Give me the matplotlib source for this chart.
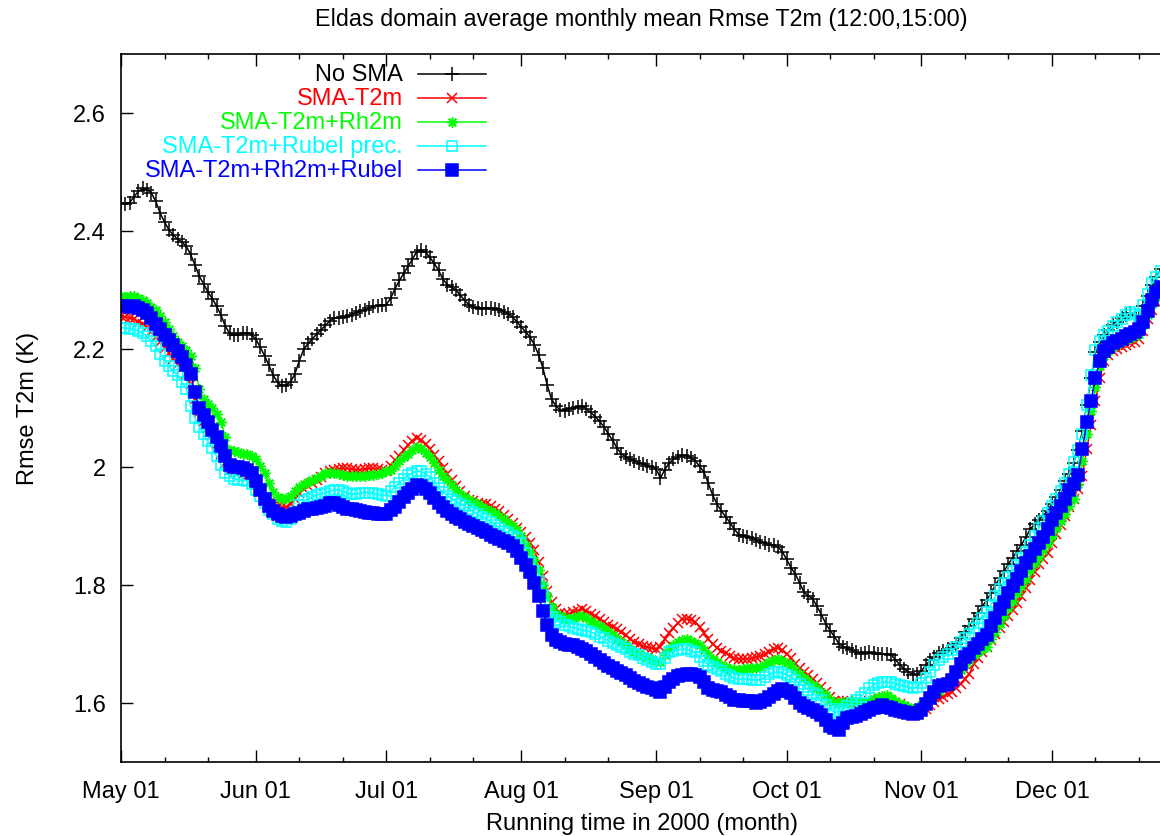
import matplotlib
matplotlib.use("Agg")
import matplotlib.pyplot as plt
import matplotlib.dates as mdates
from matplotlib.ticker import FixedLocator, FormatStrFormatter
import pandas as pd

plt.rcParams['font.family'] = ['Liberation Sans', 'DejaVu Sans']
plt.rcParams['font.size'] = 17

# daily running-mean values, first day is 2000-05-01
start = "2000-05-01"
labels = ["No SMA", "SMA-T2m", "SMA-T2m+Rh2m", "SMA-T2m+Rubel prec.", "SMA-T2m+Rh2m+Rubel"]

no_sma = [
    2.447, 2.445, 2.448, 2.458, 2.467, 2.472, 2.470, 2.464, 2.450, 2.430,
    2.415, 2.402, 2.393, 2.386, 2.381, 2.374, 2.360, 2.342, 2.323, 2.310,
    2.296, 2.285, 2.272, 2.257, 2.238, 2.226, 2.224, 2.224, 2.226, 2.227,
    2.224, 2.216, 2.203, 2.188, 2.172, 2.155, 2.143, 2.137, 2.139, 2.144,
    2.158, 2.180, 2.199, 2.209, 2.217, 2.225, 2.232, 2.240, 2.247, 2.252,
    2.253, 2.254, 2.255, 2.258, 2.261, 2.264, 2.266, 2.269, 2.272, 2.273,
    2.274, 2.275, 2.286, 2.302, 2.316, 2.328, 2.340, 2.352, 2.365, 2.368,
    2.364, 2.355, 2.345, 2.333, 2.318, 2.309, 2.304, 2.300, 2.291, 2.282,
    2.275, 2.271, 2.269, 2.268, 2.270, 2.269, 2.268, 2.266, 2.263, 2.259,
    2.254, 2.246, 2.237, 2.229, 2.220, 2.207, 2.190, 2.167, 2.138, 2.114,
    2.103, 2.096, 2.095, 2.098, 2.100, 2.102, 2.103, 2.098, 2.092, 2.085,
    2.077, 2.068, 2.056, 2.045, 2.032, 2.022, 2.017, 2.013, 2.010, 2.007,
    2.004, 2.002, 2.000, 1.996, 1.981, 1.995, 2.006, 2.013, 2.017, 2.020,
    2.019, 2.015, 2.010, 2.001, 1.991, 1.972, 1.952, 1.937, 1.925, 1.915,
    1.905, 1.894, 1.885, 1.883, 1.881, 1.879, 1.876, 1.873, 1.870, 1.868,
    1.867, 1.864, 1.856, 1.843, 1.829, 1.818, 1.803, 1.787, 1.781, 1.776,
    1.763, 1.749, 1.734, 1.722, 1.712, 1.700, 1.695, 1.692, 1.689, 1.686,
    1.683, 1.684, 1.685, 1.684, 1.683, 1.683, 1.682, 1.681, 1.673, 1.664,
    1.657, 1.652, 1.647, 1.648, 1.654, 1.663, 1.672, 1.678, 1.684, 1.688,
    1.690, 1.693, 1.700, 1.710, 1.720, 1.730, 1.741, 1.752, 1.763, 1.774,
    1.786, 1.799, 1.811, 1.823, 1.835, 1.846, 1.857, 1.868, 1.880, 1.894,
    1.902, 1.910, 1.917, 1.925, 1.937, 1.948, 1.960, 1.975, 1.988, 2.007,
    2.028, 2.060, 2.105, 2.150, 2.195, 2.212, 2.224, 2.232, 2.240, 2.246,
    2.252, 2.258, 2.260, 2.258, 2.256, 2.272, 2.290, 2.308, 2.322, 2.335,
]

sma_t2m = [
    2.256, 2.254, 2.252, 2.250, 2.246, 2.242, 2.237, 2.229, 2.220, 2.211,
    2.202, 2.193, 2.183, 2.175, 2.168, 2.158, 2.140, 2.115, 2.093, 2.078,
    2.066, 2.053, 2.038, 2.022, 2.006, 1.994, 1.991, 1.990, 1.988, 1.985,
    1.980, 1.970, 1.958, 1.946, 1.938, 1.934, 1.932, 1.931, 1.932, 1.937,
    1.946, 1.955, 1.962, 1.967, 1.972, 1.977, 1.983, 1.989, 1.993, 1.995,
    1.996, 1.997, 1.997, 1.996, 1.995, 1.995, 1.996, 1.997, 1.997, 1.996,
    1.994, 1.993, 2.002, 2.011, 2.019, 2.028, 2.037, 2.043, 2.049, 2.045,
    2.038, 2.030, 2.020, 2.009, 1.997, 1.987, 1.977, 1.968, 1.959, 1.950,
    1.943, 1.941, 1.939, 1.937, 1.936, 1.933, 1.929, 1.925, 1.918, 1.911,
    1.904, 1.896, 1.889, 1.881, 1.871, 1.858, 1.838, 1.815, 1.790, 1.770,
    1.758, 1.752, 1.750, 1.750, 1.753, 1.756, 1.759, 1.755, 1.751, 1.747,
    1.742, 1.736, 1.732, 1.728, 1.724, 1.720, 1.714, 1.708, 1.703, 1.699,
    1.696, 1.694, 1.692, 1.691, 1.695, 1.707, 1.718, 1.726, 1.735, 1.741,
    1.742, 1.740, 1.737, 1.728, 1.718, 1.707, 1.699, 1.693, 1.688, 1.684,
    1.679, 1.675, 1.674, 1.674, 1.674, 1.675, 1.677, 1.679, 1.682, 1.686,
    1.690, 1.693, 1.689, 1.683, 1.675, 1.666, 1.658, 1.652, 1.646, 1.640,
    1.633, 1.626, 1.618, 1.610, 1.603, 1.601, 1.603, 1.603, 1.600, 1.597,
    1.596, 1.599, 1.602, 1.603, 1.604, 1.605, 1.605, 1.602, 1.600, 1.597,
    1.592, 1.586, 1.580, 1.582, 1.585, 1.589, 1.595, 1.601, 1.606, 1.610,
    1.614, 1.618, 1.625, 1.632, 1.640, 1.648, 1.665, 1.675, 1.685, 1.695,
    1.706, 1.716, 1.727, 1.737, 1.747, 1.757, 1.768, 1.781, 1.794, 1.808,
    1.822, 1.835, 1.844, 1.853, 1.870, 1.886, 1.901, 1.916, 1.931, 1.946,
    1.963, 1.985, 2.030, 2.070, 2.112, 2.150, 2.180, 2.190, 2.196, 2.200,
    2.203, 2.206, 2.209, 2.212, 2.216, 2.230, 2.250, 2.266, 2.280, 2.290,
]

sma_t2m_rh2m = [
    2.289, 2.288, 2.290, 2.289, 2.286, 2.282, 2.277, 2.271, 2.265, 2.255,
    2.245, 2.233, 2.221, 2.211, 2.204, 2.198, 2.188, 2.168, 2.132, 2.115,
    2.107, 2.099, 2.089, 2.076, 2.050, 2.028, 2.026, 2.025, 2.022, 2.021,
    2.019, 2.013, 2.001, 1.990, 1.973, 1.957, 1.948, 1.945, 1.947, 1.951,
    1.958, 1.965, 1.970, 1.974, 1.978, 1.981, 1.985, 1.989, 1.990, 1.989,
    1.987, 1.986, 1.985, 1.984, 1.984, 1.984, 1.985, 1.986, 1.986, 1.987,
    1.990, 1.992, 1.995, 2.002, 2.009, 2.016, 2.022, 2.028, 2.034, 2.030,
    2.024, 2.017, 2.006, 1.995, 1.985, 1.977, 1.969, 1.961, 1.954, 1.949,
    1.944, 1.940, 1.936, 1.932, 1.928, 1.925, 1.921, 1.917, 1.912, 1.905,
    1.899, 1.893, 1.883, 1.868, 1.855, 1.842, 1.824, 1.800, 1.780, 1.762,
    1.751, 1.747, 1.744, 1.742, 1.744, 1.746, 1.747, 1.743, 1.738, 1.734,
    1.729, 1.724, 1.720, 1.714, 1.708, 1.703, 1.697, 1.691, 1.686, 1.683,
    1.679, 1.677, 1.674, 1.671, 1.668, 1.680, 1.691, 1.697, 1.702, 1.706,
    1.708, 1.705, 1.701, 1.697, 1.689, 1.681, 1.674, 1.669, 1.664, 1.660,
    1.657, 1.657, 1.656, 1.657, 1.658, 1.658, 1.659, 1.661, 1.664, 1.668,
    1.672, 1.674, 1.671, 1.667, 1.663, 1.655, 1.648, 1.642, 1.636, 1.630,
    1.625, 1.618, 1.612, 1.604, 1.601, 1.600, 1.601, 1.601, 1.602, 1.601,
    1.601, 1.601, 1.603, 1.606, 1.609, 1.611, 1.612, 1.608, 1.603, 1.598,
    1.595, 1.592, 1.589, 1.588, 1.595, 1.603, 1.610, 1.614, 1.620, 1.626,
    1.634, 1.641, 1.648, 1.656, 1.665, 1.673, 1.680, 1.686, 1.690, 1.695,
    1.707, 1.719, 1.733, 1.746, 1.760, 1.773, 1.785, 1.798, 1.810, 1.824,
    1.836, 1.847, 1.858, 1.870, 1.883, 1.896, 1.908, 1.920, 1.934, 1.946,
    1.970, 2.010, 2.055, 2.095, 2.135, 2.170, 2.188, 2.196, 2.203, 2.208,
    2.212, 2.216, 2.219, 2.222, 2.225, 2.240, 2.258, 2.276, 2.288, 2.296,
]

sma_t2m_rubel = [
    2.236, 2.235, 2.234, 2.233, 2.230, 2.226, 2.222, 2.213, 2.204, 2.192,
    2.180, 2.170, 2.162, 2.155, 2.143, 2.132, 2.103, 2.082, 2.068, 2.055,
    2.043, 2.031, 2.018, 2.003, 1.989, 1.984, 1.980, 1.978, 1.977, 1.976,
    1.970, 1.961, 1.951, 1.938, 1.927, 1.919, 1.912, 1.908, 1.906, 1.912,
    1.923, 1.935, 1.941, 1.945, 1.949, 1.952, 1.954, 1.956, 1.958, 1.961,
    1.961, 1.958, 1.955, 1.953, 1.954, 1.955, 1.956, 1.956, 1.955, 1.953,
    1.952, 1.951, 1.958, 1.966, 1.972, 1.980, 1.986, 1.990, 1.992, 1.992,
    1.988, 1.983, 1.973, 1.964, 1.957, 1.951, 1.946, 1.941, 1.937, 1.933,
    1.928, 1.924, 1.919, 1.915, 1.911, 1.907, 1.901, 1.896, 1.891, 1.887,
    1.883, 1.879, 1.870, 1.853, 1.838, 1.823, 1.806, 1.782, 1.756, 1.745,
    1.740, 1.736, 1.732, 1.729, 1.727, 1.725, 1.723, 1.721, 1.720, 1.716,
    1.712, 1.709, 1.705, 1.701, 1.698, 1.694, 1.690, 1.686, 1.683, 1.680,
    1.676, 1.672, 1.669, 1.666, 1.665, 1.676, 1.685, 1.687, 1.689, 1.691,
    1.690, 1.688, 1.685, 1.678, 1.670, 1.664, 1.660, 1.657, 1.653, 1.649,
    1.645, 1.641, 1.640, 1.640, 1.640, 1.639, 1.638, 1.639, 1.643, 1.648,
    1.651, 1.652, 1.650, 1.647, 1.644, 1.638, 1.632, 1.627, 1.622, 1.617,
    1.612, 1.604, 1.596, 1.589, 1.583, 1.585, 1.589, 1.594, 1.599, 1.604,
    1.610, 1.617, 1.624, 1.630, 1.633, 1.634, 1.635, 1.634, 1.632, 1.630,
    1.628, 1.626, 1.624, 1.626, 1.633, 1.641, 1.652, 1.664, 1.672, 1.677,
    1.683, 1.689, 1.694, 1.702, 1.710, 1.717, 1.726, 1.735, 1.744, 1.753,
    1.766, 1.780, 1.793, 1.803, 1.813, 1.823, 1.833, 1.845, 1.856, 1.868,
    1.883, 1.896, 1.908, 1.921, 1.933, 1.945, 1.958, 1.973, 1.988, 2.008,
    2.028, 2.055, 2.105, 2.155, 2.198, 2.214, 2.224, 2.231, 2.238, 2.245,
    2.251, 2.257, 2.262, 2.259, 2.256, 2.274, 2.293, 2.311, 2.322, 2.332,
]

sma_t2m_rh2m_rubel = [
    2.272, 2.273, 2.271, 2.272, 2.269, 2.265, 2.261, 2.252, 2.242, 2.233,
    2.224, 2.215, 2.206, 2.196, 2.186, 2.172, 2.157, 2.126, 2.100, 2.087,
    2.075, 2.063, 2.051, 2.035, 2.019, 2.003, 2.000, 1.999, 1.998, 1.995,
    1.990, 1.976, 1.961, 1.946, 1.934, 1.925, 1.919, 1.916, 1.914, 1.916,
    1.919, 1.922, 1.925, 1.928, 1.929, 1.930, 1.931, 1.934, 1.938, 1.938,
    1.935, 1.932, 1.929, 1.928, 1.927, 1.925, 1.924, 1.922, 1.921, 1.920,
    1.920, 1.920, 1.926, 1.932, 1.940, 1.948, 1.956, 1.963, 1.969, 1.967,
    1.962, 1.956, 1.947, 1.939, 1.932, 1.925, 1.920, 1.915, 1.911, 1.907,
    1.903, 1.900, 1.896, 1.893, 1.889, 1.885, 1.881, 1.877, 1.874, 1.870,
    1.866, 1.857, 1.846, 1.834, 1.821, 1.803, 1.780, 1.755, 1.731, 1.714,
    1.706, 1.702, 1.700, 1.698, 1.697, 1.694, 1.691, 1.687, 1.682, 1.677,
    1.672, 1.667, 1.662, 1.658, 1.654, 1.650, 1.646, 1.642, 1.637, 1.633,
    1.630, 1.627, 1.624, 1.621, 1.618, 1.626, 1.634, 1.640, 1.645, 1.647,
    1.649, 1.648, 1.646, 1.643, 1.634, 1.625, 1.621, 1.620, 1.618, 1.613,
    1.609, 1.605, 1.604, 1.603, 1.603, 1.602, 1.600, 1.601, 1.605, 1.609,
    1.614, 1.619, 1.623, 1.620, 1.616, 1.608, 1.599, 1.594, 1.591, 1.588,
    1.584, 1.579, 1.570, 1.561, 1.556, 1.554, 1.566, 1.573, 1.575, 1.577,
    1.581, 1.584, 1.588, 1.591, 1.593, 1.595, 1.593, 1.590, 1.588, 1.586,
    1.584, 1.582, 1.581, 1.582, 1.588, 1.598, 1.607, 1.618, 1.628, 1.630,
    1.632, 1.638, 1.652, 1.666, 1.678, 1.683, 1.692, 1.700, 1.707, 1.714,
    1.729, 1.744, 1.758, 1.771, 1.785, 1.797, 1.810, 1.823, 1.836, 1.849,
    1.860, 1.870, 1.881, 1.895, 1.909, 1.921, 1.934, 1.946, 1.960, 1.971,
    1.986, 2.030, 2.075, 2.112, 2.150, 2.180, 2.196, 2.203, 2.209, 2.213,
    2.217, 2.221, 2.225, 2.229, 2.233, 2.246, 2.264, 2.283, 2.296, 2.305,
]

series = [no_sma, sma_t2m, sma_t2m_rh2m, sma_t2m_rubel, sma_t2m_rh2m_rubel]
colors = ["#000000", "#ff0000", "#00ff00", "#00ffff", "#0000ff"]
markers = ["+", "x", (8, 2, 0), "s", "s"]
msizes = [10, 7, 7.5, 7.5, 8]
mfaces = [None, None, None, "none", None]

days = pd.date_range(start, periods=len(no_sma), freq="D")

fig = plt.figure(figsize=(11.6, 8.37), dpi=100)
# gnuplot canvas is cut on the right, so the axes run slightly past the edge
ax = fig.add_axes([121 / 1160, 1 - 762.5 / 837, 1041 / 1160, 707.5 / 837])

for vals, c, m, ms, fc in zip(series, colors, markers, msizes, mfaces):
    kw = dict(color=c, marker=m, markersize=ms, markeredgewidth=1.1, linewidth=1.1)
    if fc:
        kw["markerfacecolor"] = fc
    ax.plot(days, vals, **kw)

t0 = pd.Timestamp(start)
ax.set_xlim(t0, t0 + pd.Timedelta(days=239.3))
ax.set_ylim(1.5, 2.7)

ax.xaxis.set_major_locator(mdates.MonthLocator())
ax.xaxis.set_major_formatter(mdates.DateFormatter("%b %d"))
ax.xaxis.set_minor_locator(mdates.DayLocator(bymonthday=[11, 21]))
ax.yaxis.set_major_locator(FixedLocator([1.6, 1.8, 2.0, 2.2, 2.4, 2.6]))
ax.yaxis.set_major_formatter(FormatStrFormatter("%g"))

ax.tick_params(which="major", direction="in", length=8.6, width=1, labelsize=17)
ax.tick_params(axis="x", which="major", pad=13)
ax.tick_params(axis="y", which="major", pad=11)
ax.tick_params(which="minor", direction="in", length=3.6, width=1)
ax.tick_params(axis="x", which="both", top=True)
ax.tick_params(axis="y", which="both", right=False)
ax.spines["right"].set_visible(False)
for s in ["left", "bottom", "top"]:
    ax.spines[s].set_linewidth(1.2)

# gnuplot style key: right aligned coloured text, then the sample
key_y0 = 0.9717
for i, (lab, c, m, ms, fc) in enumerate(zip(labels, colors, markers, msizes, mfaces)):
    y = key_y0 - i * 0.0339
    ax.text(0.2709, y, lab, color=c, ha="right", va="center", fontsize=17,
            transform=ax.transAxes)
    ax.plot([0.2853, 0.3506], [y, y], color=c, lw=1.1, transform=ax.transAxes)
    kw = dict(color=c, marker=m, markersize=ms, markeredgewidth=1.1, linestyle="none")
    if fc:
        kw["markerfacecolor"] = fc
    ax.plot([0.318], [y], transform=ax.transAxes, **kw)

fig.text(641.5 / 1160, 1 - 26 / 837, "Eldas domain average monthly mean Rmse T2m (12:00,15:00)",
         ha="center", va="baseline", fontsize=16.8)
fig.text(641.5 / 1160, 1 - 830 / 837, "Running time in 2000 (month)",
         ha="center", va="baseline", fontsize=17)
fig.text(28 / 1160, 1 - 408 / 837, "Rmse T2m (K)", rotation=90,
         ha="center", va="center", fontsize=17)

fig.savefig("out.png", dpi=100)
